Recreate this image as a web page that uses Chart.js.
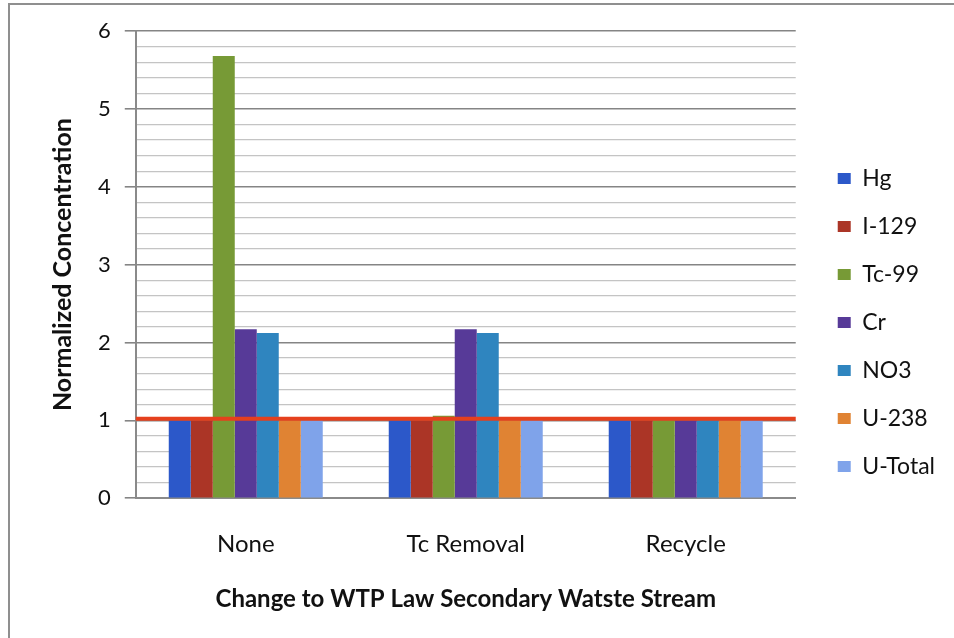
<!DOCTYPE html>
<html>
<head>
<meta charset="utf-8">
<script src="https://cdn.jsdelivr.net/npm/chart.js@4.4.1/dist/chart.umd.min.js"></script>
<style>
  html, body { margin: 0; padding: 0; background: #fff; }
  #wrap { position: relative; width: 954px; height: 638px; }
  #frame {
    position: absolute; left: 8px; top: 3px; right: -4px; bottom: -4px;
    border-left: 2px solid #8f8f8f; border-top: 2px solid #8f8f8f;
  }
  canvas { position: absolute; left: 0; top: 0; }
</style>
</head>
<body>
<div id="wrap">
  <div id="frame"></div>
  <canvas id="chart" width="954" height="638"></canvas>
</div>
<script>
const categories = ['None', 'Tc Removal', 'Recycle'];

const hg     = [1.0, 1.0, 1.0];
const i129   = [1.0, 1.0, 1.0];
const tc99   = [5.68, 1.06, 1.0];
const cr     = [2.17, 2.17, 1.0];
const no3    = [2.12, 2.12, 1.0];
const u238   = [1.0, 1.0, 1.0];
const uTotal = [1.0, 1.0, 1.0];

// horizontal reference level drawn across the plot
const limitLevel = 1.02;

const yMin = 0;
const yMax = 6;

const FONT = 'Lato, "Open Sans", sans-serif';

const isWhole = (v) => Math.abs(v - Math.round(v)) < 1e-6;

// red limit line over the bars
const limitLine = {
  id: 'limitLine',
  afterDatasetsDraw(chart) {
    const { ctx, chartArea, scales } = chart;
    const y = scales.y.getPixelForValue(limitLevel);
    ctx.save();
    ctx.strokeStyle = '#e5401d';
    ctx.lineWidth = 4;
    ctx.beginPath();
    ctx.moveTo(chartArea.left, y);
    ctx.lineTo(chartArea.right, y);
    ctx.stroke();
    ctx.restore();
  }
};

const ctx = document.getElementById('chart').getContext('2d');
new Chart(ctx, {
  type: 'bar',
  data: {
    labels: categories,
    datasets: [
      { label: 'Hg', data: hg, backgroundColor: '#2c58c9' },
      { label: 'I-129', data: i129, backgroundColor: '#ab3526' },
      { label: 'Tc-99', data: tc99, backgroundColor: '#779a36' },
      { label: 'Cr', data: cr, backgroundColor: '#573a98' },
      { label: 'NO3', data: no3, backgroundColor: '#2f85bf' },
      { label: 'U-238', data: u238, backgroundColor: '#e08333' },
      { label: 'U-Total', data: uTotal, backgroundColor: '#7fa3ea' },
    ],
  },
  options: {
    responsive: false,
    animation: false,
    layout: { padding: { left: 48, top: 31, right: 9, bottom: 24 } },
    datasets: {
      bar: { categoryPercentage: 0.7, barPercentage: 1.0, borderWidth: 0 },
    },
    scales: {
      x: {
        grid: { display: false },
        border: { display: true, color: '#8a8a8a', width: 2 },
        ticks: { color: '#111', padding: 26, font: { family: FONT, size: 24, lineHeight: 1 } },
        title: {
          display: true,
          text: 'Change to WTP Law Secondary Watste Stream',
          color: '#111',
          padding: { top: 3, bottom: 0 },
          font: { family: FONT, size: 24, weight: 'bold' },
        },
      },
      y: {
        min: yMin,
        max: yMax,
        ticks: {
          stepSize: 0.2,
          autoSkip: false,
          color: '#111',
          padding: 14,
          font: { family: FONT, size: 22 },
          callback: (v) => (isWhole(v) ? Math.round(v) : ''),
        },
        grid: {
          tickLength: 11,
          color: (c) => (isWhole(c.tick.value) ? '#858585' : '#c4c4c4'),
          tickColor: (c) => (isWhole(c.tick.value) ? '#858585' : 'rgba(0,0,0,0)'),
          lineWidth: (c) => (isWhole(c.tick.value) ? 1.6 : 1.2),
        },
        border: { display: true, color: '#8a8a8a', width: 2 },
        title: {
          display: true,
          text: 'Normalized Concentration',
          color: '#111',
          padding: { top: 0, bottom: 6 },
          font: { family: FONT, size: 25, weight: 'bold' },
        },
      },
      gap: {
        position: 'right',
        display: true,
        grid: { display: false },
        border: { display: false },
        ticks: { display: false },
        afterFit: (s) => { s.width = 17; },
      },
    },
    plugins: {
      legend: {
        position: 'right',
        labels: {
          boxWidth: 13,
          boxHeight: 11,
          padding: 25,
          color: '#111',
          font: { family: FONT, size: 23 },
        },
      },
      tooltip: { enabled: false },
    },
  },
  plugins: [limitLine],
});
</script>
</body>
</html>
